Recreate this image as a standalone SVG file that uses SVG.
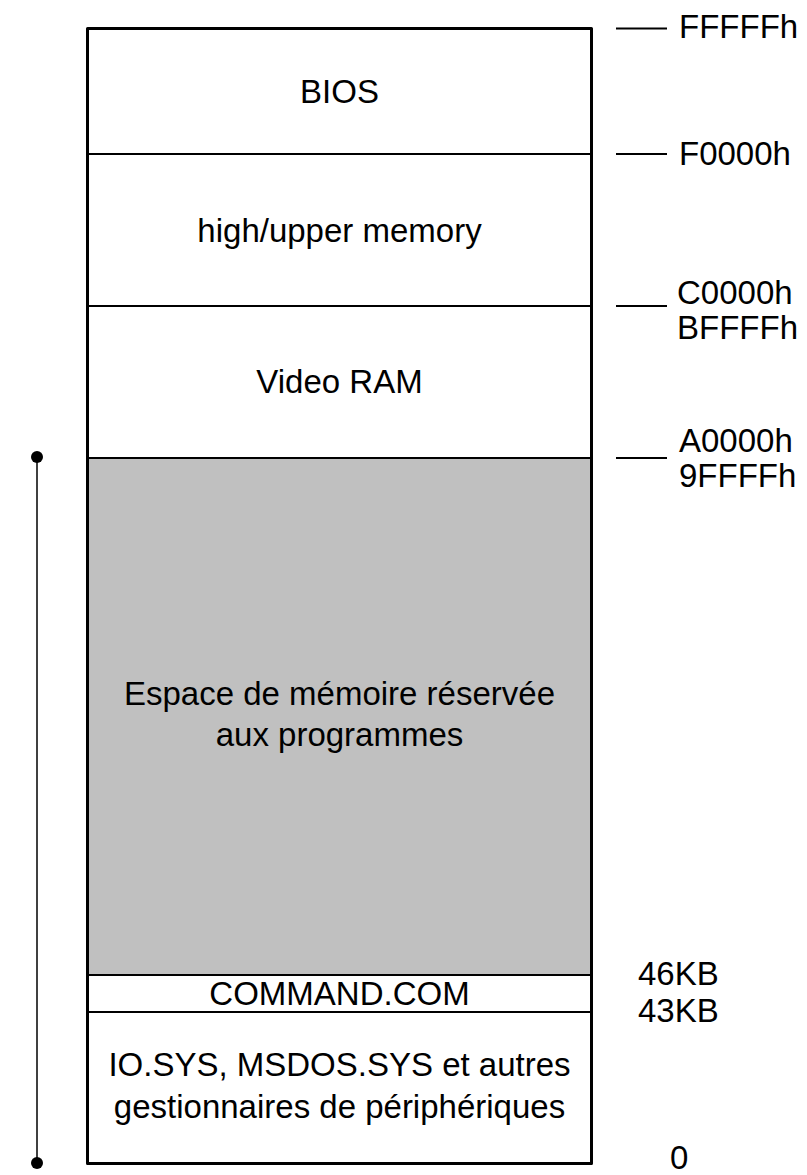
<svg xmlns="http://www.w3.org/2000/svg" width="807" height="1175" viewBox="0 0 807 1175">
<style>
text{font-family:"Liberation Sans",Arial,sans-serif;font-size:33px;fill:#000}
.c{text-anchor:middle}
.div{stroke:#000;stroke-width:2;fill:none}
.tick{stroke:#000;stroke-width:2}
</style>
<rect x="0" y="0" width="807" height="1175" fill="#fff"/>
<g id="memory-map">
<rect id="gray" x="88" y="458" width="503" height="517" fill="#c0c0c0"/>
<g id="bios"><text class="c" x="339.5" y="103">BIOS</text></g>
<g id="upper"><text class="c" x="339.5" y="242">high/upper memory</text></g>
<g id="video"><text class="c" x="339.5" y="393">Video RAM</text></g>
<g id="programs"><text class="c" x="339.5" y="705">Espace de mémoire réservée</text><text class="c" x="339.5" y="746">aux programmes</text></g>
<g id="command"><text class="c" x="339.5" y="1005">COMMAND.COM</text></g>
<g id="system"><text class="c" x="339.5" y="1076">IO.SYS, MSDOS.SYS et autres</text><text class="c" x="339.5" y="1118">gestionnaires de périphériques</text></g>
<line class="div" x1="88" y1="154" x2="591" y2="154"/>
<line class="div" x1="88" y1="306" x2="591" y2="306"/>
<line class="div" x1="88" y1="458" x2="591" y2="458"/>
<line class="div" x1="88" y1="975" x2="591" y2="975"/>
<line class="div" x1="88" y1="1012" x2="591" y2="1012"/>
<rect x="87.5" y="28.5" width="504" height="1135" fill="none" stroke="#000" stroke-width="3" stroke-linejoin="round"/>
</g>
<g id="connectors">
<line class="tick" x1="616" y1="28.5" x2="667" y2="28.5"/>
<line class="tick" x1="616" y1="154" x2="667" y2="154"/>
<line class="tick" x1="616" y1="306" x2="667" y2="306"/>
<line class="tick" x1="616" y1="458" x2="667" y2="458"/>
<line x1="37" y1="457" x2="37" y2="1163" stroke="#000" stroke-width="1.5"/>
<circle cx="37" cy="457" r="6" fill="#000"/>
<circle cx="37" cy="1163" r="6" fill="#000"/>
</g>
<g id="labels">
<text x="679" y="38">FFFFFh</text>
<text x="679" y="165">F0000h</text>
<text x="677" y="304">C0000h</text>
<text x="677" y="339">BFFFFh</text>
<text x="679" y="452">A0000h</text>
<text x="679" y="487">9FFFFh</text>
<text x="638" y="985">46KB</text>
<text x="638" y="1022">43KB</text>
<text x="670" y="1169">0</text>
</g>
</svg>
